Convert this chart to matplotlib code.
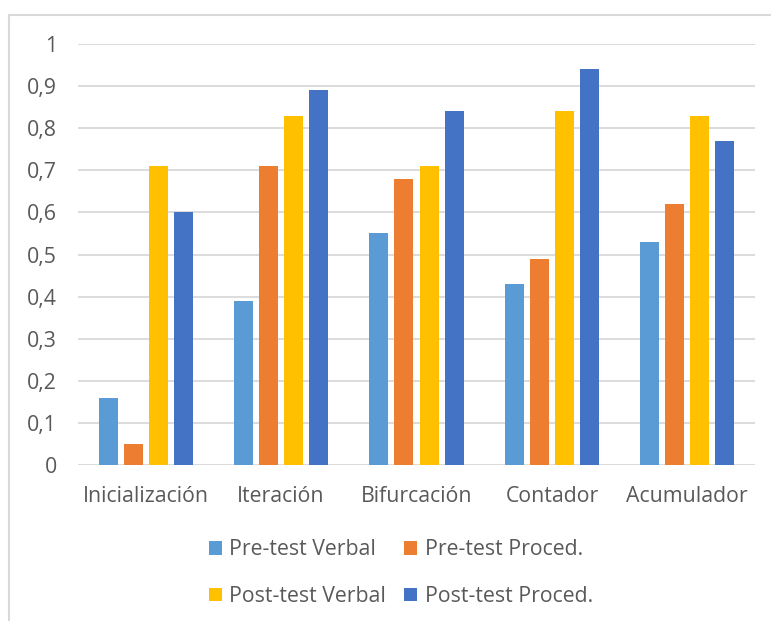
import numpy as np
import matplotlib
matplotlib.use('Agg')
import matplotlib.pyplot as plt
from matplotlib.lines import Line2D
from matplotlib.patches import Patch

plt.rcParams['font.family'] = ['Open Sans', 'DejaVu Sans']

categories = ['Inicialización', 'Iteración', 'Bifurcación', 'Contador', 'Acumulador']
series_names = ['Pre-test Verbal', 'Pre-test Proced.', 'Post-test Verbal', 'Post-test Proced.']
pre_verbal = [0.16, 0.39, 0.55, 0.43, 0.53]
pre_proced = [0.05, 0.71, 0.68, 0.49, 0.62]
post_verbal = [0.71, 0.83, 0.71, 0.84, 0.83]
post_proced = [0.60, 0.89, 0.84, 0.94, 0.77]
yticks = [0, 0.1, 0.2, 0.3, 0.4, 0.5, 0.6, 0.7, 0.8, 0.9, 1]
ytick_labels = ['0', '0,1', '0,2', '0,3', '0,4', '0,5', '0,6', '0,7', '0,8', '0,9', '1']

colors = ['#5B9BD5', '#ED7D31', '#FFC000', '#4472C4']
text_color = '#595959'
grid_color = '#D9D9D9'
fs = 15.3

W, H = 771, 621
fig = plt.figure(figsize=(W / 100, H / 100), dpi=100)
ax = fig.add_axes([78 / W, 1 - 465 / H, (755 - 78) / W, (465 - 44) / H])

x = np.arange(len(categories))
width = 0.14
step = 0.185
offsets = (np.arange(4) - 1.5) * step
for vals, off, c, name in zip([pre_verbal, pre_proced, post_verbal, post_proced],
                              offsets, colors, series_names):
    ax.bar(x + off, vals, width=width, color=c, label=name, zorder=3)

ax.set_xlim(-0.5, len(categories) - 0.5)
ax.set_ylim(0, 1)
ax.set_yticks(yticks)
ax.set_yticklabels(ytick_labels)
ax.set_xticks(x)
ax.set_xticklabels(categories)
ax.yaxis.grid(True, color=grid_color, linewidth=1.3, zorder=0)
ax.tick_params(axis='both', length=0, labelsize=fs, labelcolor=text_color)
ax.tick_params(axis='y', pad=15)
ax.tick_params(axis='x', pad=15)
for s in ax.spines.values():
    s.set_visible(False)

# chart frame (left and top edges only)
fig.add_artist(Line2D([8.5 / W, 8.5 / W], [0, 1 - 15 / H], transform=fig.transFigure,
                      color=grid_color, linewidth=1.5))
fig.add_artist(Line2D([8.5 / W, 1], [1 - 15 / H, 1 - 15 / H], transform=fig.transFigure,
                      color=grid_color, linewidth=1.5))

# legend fills column-wise, so order handles to read row by row
handles = [Patch(facecolor=c, label=n) for c, n in zip(colors, series_names)]
handles = [handles[0], handles[2], handles[1], handles[3]]
leg = fig.legend(handles=handles, ncol=2, loc='center', bbox_to_anchor=(401 / W, 1 - 573 / H),
                 frameon=False, fontsize=fs, handlelength=0.6, handleheight=0.6,
                 handletextpad=0.35, columnspacing=0.85, labelspacing=1.2)
for t in leg.get_texts():
    t.set_color(text_color)

fig.savefig('out.png', dpi=100)
